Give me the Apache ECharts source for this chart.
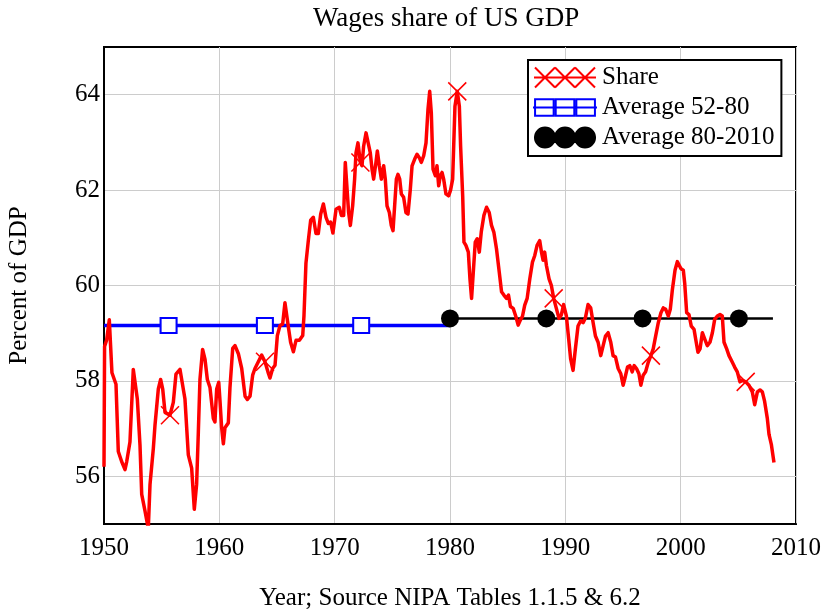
<!DOCTYPE html>
<html>
<head>
<meta charset="utf-8">
<title>Wages share of US GDP</title>
<script src="https://cdn.jsdelivr.net/npm/echarts@6/dist/echarts.min.js"></script>
<style>
  html, body { margin: 0; padding: 0; background: #fff; }
  #chart { width: 831px; height: 612px; }
</style>
</head>
<body>
<div id="chart"></div>
<script>
// 数据
var shareYears = [
    1950.00, 1950.05, 1950.23, 1950.46, 1950.58, 1950.69, 1951.04, 1951.24, 1951.53, 1951.82,
    1951.97, 1952.25, 1952.54, 1952.69, 1952.89, 1953.12, 1953.27, 1953.55, 1953.84, 1953.99,
    1954.28, 1954.42, 1954.71, 1954.91, 1955.09, 1955.29, 1955.72, 1956.01, 1956.24, 1956.59,
    1956.76, 1957.02, 1957.31, 1957.60, 1957.83, 1958.03, 1958.18, 1958.32, 1958.55, 1958.76,
    1958.96, 1959.19, 1959.48, 1959.62, 1959.77, 1959.95, 1960.06, 1960.20, 1960.35, 1960.49,
    1960.78, 1960.92, 1961.16, 1961.36, 1961.65, 1961.94, 1962.23, 1962.43, 1962.66, 1962.89,
    1963.09, 1963.38, 1963.67, 1963.96, 1964.25, 1964.39, 1964.62, 1964.83, 1965.03, 1965.26,
    1965.49, 1965.69, 1965.84, 1966.01, 1966.18, 1966.42, 1966.65, 1966.94, 1967.23, 1967.34,
    1967.51, 1967.72, 1967.92, 1968.15, 1968.38, 1968.58, 1968.79, 1969.02, 1969.25, 1969.45,
    1969.65, 1969.85, 1970.12, 1970.40, 1970.58, 1970.78, 1970.92, 1971.07, 1971.21, 1971.36,
    1971.56, 1971.73, 1971.85, 1972.02, 1972.23, 1972.37, 1972.51, 1972.72, 1972.89, 1973.09,
    1973.24, 1973.38, 1973.58, 1973.70, 1973.87, 1974.05, 1974.25, 1974.39, 1974.54, 1974.74,
    1974.91, 1975.06, 1975.20, 1975.35, 1975.49, 1975.64, 1975.78, 1975.98, 1976.18, 1976.36,
    1976.56, 1976.71, 1976.94, 1977.14, 1977.34, 1977.51, 1977.72, 1977.92, 1978.09, 1978.24,
    1978.38, 1978.53, 1978.73, 1978.87, 1979.02, 1979.16, 1979.31, 1979.45, 1979.65, 1979.88,
    1980.05, 1980.23, 1980.43, 1980.63, 1980.81, 1980.92, 1981.10, 1981.21, 1981.38, 1981.59,
    1981.73, 1981.87, 1982.02, 1982.19, 1982.36, 1982.54, 1982.71, 1982.94, 1983.17, 1983.40,
    1983.60, 1983.80, 1984.03, 1984.27, 1984.47, 1984.67, 1984.90, 1985.07, 1985.24, 1985.48,
    1985.71, 1985.91, 1986.11, 1986.28, 1986.48, 1986.69, 1986.92, 1987.15, 1987.35, 1987.55,
    1987.78, 1987.93, 1988.07, 1988.21, 1988.36, 1988.59, 1988.79, 1988.99, 1989.22, 1989.45,
    1989.65, 1989.85, 1990.09, 1990.29, 1990.46, 1990.67, 1990.87, 1991.10, 1991.33, 1991.54,
    1991.74, 1991.97, 1992.20, 1992.41, 1992.61, 1992.84, 1993.07, 1993.28, 1993.48, 1993.71,
    1993.94, 1994.14, 1994.35, 1994.58, 1994.81, 1995.01, 1995.16, 1995.39, 1995.59, 1995.80,
    1995.97, 1996.17, 1996.38, 1996.55, 1996.75, 1996.96, 1997.19, 1997.42, 1997.62, 1997.83,
    1998.06, 1998.29, 1998.49, 1998.70, 1998.93, 1999.10, 1999.28, 1999.51, 1999.71, 1999.86,
    2000.03, 2000.23, 2000.35, 2000.52, 2000.72, 2000.92, 2001.16, 2001.30, 2001.50, 2001.68,
    2001.88, 2002.08, 2002.31, 2002.54, 2002.75, 2002.95, 2003.18, 2003.41, 2003.61, 2003.76,
    2003.99, 2004.19, 2004.48, 2004.68, 2004.91, 2005.14, 2005.35, 2005.64, 2005.92, 2006.21,
    2006.42, 2006.65, 2006.88, 2007.08, 2007.28, 2007.51, 2007.66, 2007.86, 2008.03, 2008.09
];
var shareValues = [
    56.20, 58.72, 58.86, 59.28, 59.31, 58.17, 57.93, 56.52, 56.31, 56.14,
    56.31, 56.72, 58.24, 58.24, 57.62, 56.66, 55.62, 55.28, 54.90, 55.83,
    56.59, 57.07, 57.83, 58.03, 57.83, 57.34, 57.28, 57.55, 58.14, 58.24,
    58.24, 57.62, 56.45, 56.17, 55.31, 55.83, 56.93, 58.03, 58.66, 58.45,
    58.03, 57.86, 57.21, 57.14, 57.83, 57.97, 57.57, 57.02, 56.68, 57.02,
    57.12, 57.85, 58.68, 58.74, 58.57, 58.26, 57.68, 57.61, 57.68, 58.12,
    58.26, 58.40, 58.54, 58.40, 58.16, 58.06, 58.26, 58.33, 58.95, 59.16,
    59.19, 59.64, 59.64, 59.09, 58.81, 58.61, 58.85, 58.85, 58.95, 59.37,
    60.47, 60.95, 61.37, 61.43, 61.09, 61.09, 61.50, 61.71, 61.43, 61.30,
    61.33, 61.10, 61.60, 61.64, 61.47, 61.47, 62.58, 62.61, 61.53, 61.26,
    61.67, 62.23, 62.78, 62.99, 62.58, 62.51, 62.92, 63.20, 63.24, 62.78,
    62.44, 62.23, 62.58, 62.82, 62.51, 62.23, 62.51, 62.23, 61.67, 61.53,
    61.26, 61.15, 61.67, 62.23, 62.33, 62.23, 61.92, 61.85, 61.53, 61.50,
    62.02, 62.51, 62.65, 62.75, 62.68, 62.58, 62.72, 62.99, 63.69, 64.07,
    63.62, 62.44, 62.30, 62.51, 62.09, 62.30, 62.37, 62.23, 61.92, 61.88,
    62.00, 62.23, 63.76, 64.07, 63.76, 62.92, 61.88, 60.91, 60.84, 60.70,
    60.14, 59.73, 60.28, 60.91, 60.98, 60.70, 61.12, 61.47, 61.64, 61.53,
    61.26, 61.12, 60.77, 60.28, 59.87, 59.80, 59.73, 59.80, 59.56, 59.52,
    59.35, 59.17, 59.28, 59.35, 59.59, 59.73, 60.14, 60.49, 60.63, 60.84,
    60.94, 60.70, 60.53, 60.70, 60.42, 60.14, 60.00, 59.73, 59.52, 59.31,
    59.38, 59.60, 59.36, 58.88, 58.46, 58.22, 58.67, 59.15, 59.26, 59.22,
    59.32, 59.60, 59.53, 59.22, 58.94, 58.81, 58.53, 58.74, 58.94, 59.01,
    58.81, 58.53, 58.50, 58.26, 58.15, 57.91, 58.05, 58.29, 58.32, 58.19,
    58.32, 58.26, 58.15, 57.91, 58.12, 58.19, 58.39, 58.53, 58.67, 58.94,
    59.22, 59.43, 59.53, 59.50, 59.36, 59.50, 59.91, 60.32, 60.50, 60.43,
    60.35, 60.32, 60.05, 59.43, 59.39, 59.15, 59.08, 58.88, 58.60, 58.67,
    59.01, 58.88, 58.74, 58.81, 59.01, 59.29, 59.36, 59.39, 59.36, 58.81,
    58.67, 58.53, 58.39, 58.29, 58.19, 57.98, 58.01, 57.98, 57.91, 57.77,
    57.50, 57.77, 57.81, 57.77, 57.57, 57.22, 56.88, 56.67, 56.39, 56.29
];
var shareMarkerYears = [1955.6, 1963.95, 1972.3, 1980.65, 1989.0, 1997.35, 2005.7];

var avg5280Years = [1950, 1980];
var avg5280 = 59.16;
var avg5280MarkerYears = [1955.6, 1963.95, 1972.3];

var avg8010Years = [1980, 2008];
var avg8010 = 59.31;
var avg8010MarkerYears = [1980, 1988.35, 1996.7, 2005.05];

var yTicks = [56, 58, 60, 62, 64];

(function() {
    var myChart = echarts.init(document.getElementById("chart"));
    var serif = "'Liberation Serif', 'Times New Roman', serif";

    // 取离标记年份最近的数据点
    function nearestShare(year) {
        var best = 0;
        for (var i = 1; i < shareYears.length; i++) {
            if (Math.abs(shareYears[i] - year) < Math.abs(shareYears[best] - year)) best = i;
        }
        return [shareYears[best], shareValues[best]];
    }
    var shareLine = shareYears.map(function(y, i) { return [y, shareValues[i]]; });
    var shareMarks = shareMarkerYears.map(nearestShare);
    var avg1Line = avg5280Years.map(function(y) { return [y, avg5280]; });
    var avg1Marks = avg5280MarkerYears.map(function(y) { return [y, avg5280]; });
    var avg2Line = avg8010Years.map(function(y) { return [y, avg8010]; });
    var avg2Marks = avg8010MarkerYears.map(function(y) { return [y, avg8010]; });

    // 图例图标
    var iconShare = "path://M0 10 L62 10 M1 0 L21 20 M21 0 L1 20 M21 0 L41 20 M41 0 L21 20 M41 0 L61 20 M61 0 L41 20";
    var iconSquares = "path://M0 10 L62 10 M2 2 L20 2 L20 18 L2 18 Z M22 2 L40 2 L40 18 L22 18 Z M42 2 L60 2 L60 18 L42 18 Z";
    var iconCircles = "path://M0 10 L62 10 M1 10 A10 10 0 1 0 21 10 A10 10 0 1 0 1 10 Z M21 10 A10 10 0 1 0 41 10 A10 10 0 1 0 21 10 Z M41 10 A10 10 0 1 0 61 10 A10 10 0 1 0 41 10 Z";

    var option = {
        backgroundColor: "#fff",
        animation: false,
        title: {
            text: "Wages share of US GDP",
            left: 308,
            top: 0,
            textStyle: { fontFamily: serif, fontSize: 27, fontWeight: "normal", color: "#000" }
        },
        legend: {
            orient: "vertical",
            left: 528,
            top: 60,
            padding: [5, 7, 6, 4],
            itemGap: 5,
            itemWidth: 64,
            itemHeight: 20,
            backgroundColor: "#fff",
            borderColor: "#000",
            borderWidth: 2,
            borderRadius: 0,
            textStyle: { fontFamily: serif, fontSize: 25, color: "#000", lineHeight: 25 },
            data: [
                { name: "Share", icon: iconShare, itemStyle: { color: "transparent", borderColor: "#ff0000", borderWidth: 2 } },
                { name: "Average 52-80", icon: iconSquares, itemStyle: { color: "#fff", borderColor: "#0000ff", borderWidth: 2 } },
                { name: "Average 80-2010", icon: iconCircles, itemStyle: { color: "#000", borderColor: "#000", borderWidth: 2 } }
            ]
        },
        grid: {
            left: 104,
            top: 47,
            right: 35,
            bottom: 88,
            outerBoundsMode: "none",
            show: true,
            borderColor: "#000",
            borderWidth: 2
        },
        xAxis: {
            type: "value",
            min: 1950,
            max: 2010,
            interval: 10,
            name: "Year; Source NIPA Tables 1.1.5 & 6.2",
            nameLocation: "middle",
            nameGap: 62,
            nameTextStyle: { fontFamily: serif, fontSize: 25, color: "#000" },
            axisLine: { show: true, lineStyle: { color: "#000", width: 2 } },
            axisTick: { show: false },
            axisLabel: {
                fontFamily: serif, fontSize: 25, color: "#000", margin: 12,
                showMinLabel: true, showMaxLabel: true,
                formatter: function(v) { return String(v); }
            },
            splitLine: { show: true, lineStyle: { color: "#cccccc", width: 1 } }
        },
        yAxis: {
            type: "value",
            min: 55,
            max: 65,
            interval: 1,
            name: "Percent of GDP",
            nameLocation: "middle",
            nameGap: 72,
            nameTextStyle: { fontFamily: serif, fontSize: 25, color: "#000" },
            axisLine: { show: true, lineStyle: { color: "#000", width: 2 } },
            axisTick: { show: false, customValues: yTicks },
            axisLabel: { fontFamily: serif, fontSize: 25, color: "#000", margin: 4, customValues: yTicks },
            splitLine: { show: true, lineStyle: { color: "#cccccc", width: 1 } }
        },
        series: [
            {
                name: "Average 52-80",
                type: "line",
                data: avg1Line,
                symbol: "none",
                color: "#0000ff",
                lineStyle: { color: "#0000ff", width: 3.5 },
                z: 2
            },
            {
                name: "Average 52-80",
                type: "scatter",
                data: avg1Marks,
                symbol: "rect",
                symbolSize: [16, 15],
                itemStyle: { color: "#fff", borderColor: "#0000ff", borderWidth: 2, opacity: 1 },
                z: 3
            },
            {
                name: "Average 80-2010",
                type: "line",
                data: avg2Line,
                symbol: "none",
                color: "#000",
                lineStyle: { color: "#000", width: 2.5 },
                z: 2
            },
            {
                name: "Average 80-2010",
                type: "scatter",
                data: avg2Marks,
                symbol: "circle",
                symbolSize: 18,
                itemStyle: { color: "#000", opacity: 1 },
                z: 3
            },
            {
                name: "Share",
                type: "line",
                data: shareLine,
                symbol: "none",
                color: "#ff0000",
                lineStyle: { color: "#ff0000", width: 3.5, join: "round" },
                z: 4
            },
            {
                name: "Share",
                type: "scatter",
                data: shareMarks,
                symbol: "path://M0 0 L16 16 M16 0 L0 16",
                symbolSize: 18,
                itemStyle: { color: "transparent", borderColor: "#ff0000", borderWidth: 1.5, opacity: 1 },
                z: 5
            }
        ]
    };

    myChart.setOption(option);
    window.addEventListener("resize", function() {
        myChart.resize();
    });
})();
</script>
</body>
</html>
